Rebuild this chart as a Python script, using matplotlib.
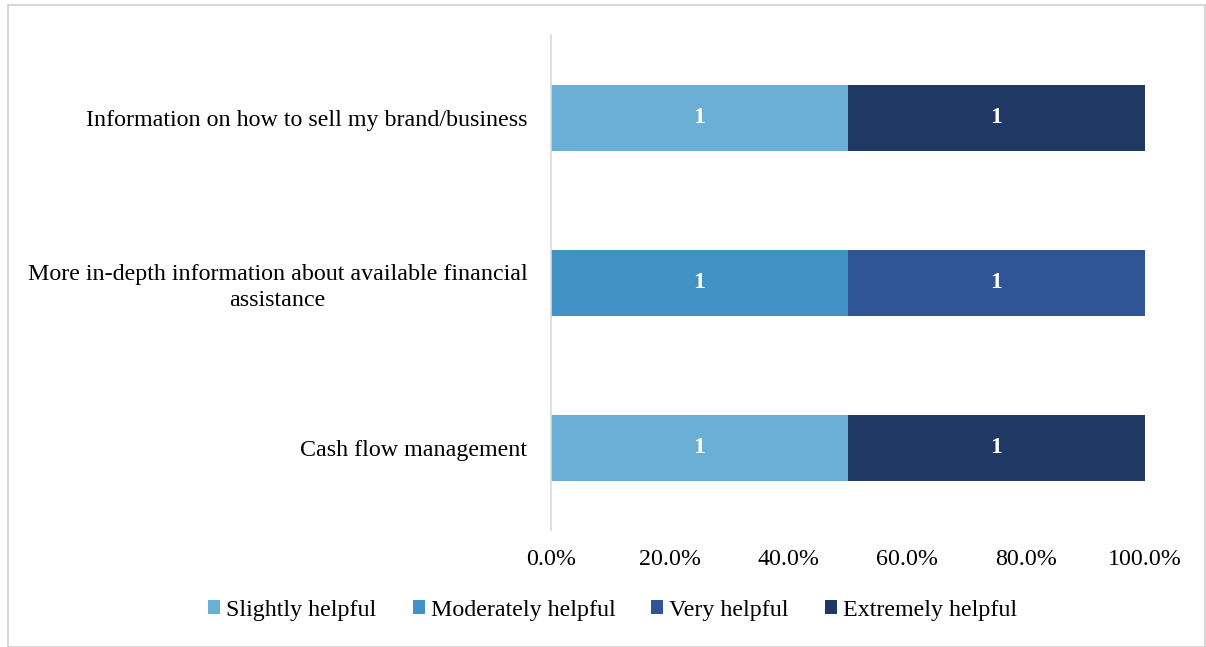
import matplotlib
matplotlib.use("Agg")
import matplotlib.pyplot as plt
import numpy as np
from matplotlib.ticker import FuncFormatter
from matplotlib.patches import Rectangle

categories = ["Cash flow management",
              "More in-depth information about available financial\nassistance",
              "Information on how to sell my brand/business"]
series = ["Slightly helpful", "Moderately helpful", "Very helpful", "Extremely helpful"]
slightly = [1, 0, 1]
moderately = [0, 1, 0]
very = [0, 1, 0]
extremely = [1, 0, 1]
colors = ["#6BAED6", "#4292C6", "#2F5597", "#203864"]

plt.rcParams['font.family'] = ['Liberation Serif', 'DejaVu Serif']

fig = plt.figure(figsize=(12.06, 6.47), dpi=100)
ax = fig.add_axes([0.4569, 0.1808, 0.4925, 0.7651])

data = np.array([slightly, moderately, very, extremely], dtype=float)
totals = data.sum(axis=0)
y = np.arange(len(categories))
left = np.zeros(len(categories))
for i, name in enumerate(series):
    frac = data[i] / totals
    bars = ax.barh(y, frac, left=left, height=0.4, color=colors[i], label=name)
    for j, b in enumerate(bars):
        if data[i][j] > 0:
            ax.text(left[j] + frac[j] / 2, y[j], f"{int(data[i][j])}", ha='center', va='center',
                    color='white', fontsize=17, fontweight='bold')
    left += frac

ax.set_xlim(0, 1)
ax.set_ylim(-0.5, 2.5)
ax.set_yticks(y)
ax.set_yticklabels(categories, fontsize=17.3, multialignment='center', linespacing=1.3)
ax.set_xticks(np.linspace(0, 1, 6))
ax.xaxis.set_major_formatter(FuncFormatter(lambda v, p: f"{v*100:.1f}%"))
ax.tick_params(axis='x', labelsize=17.3, length=0, pad=14)
ax.tick_params(axis='y', length=0, pad=17)
for s in ['top', 'right', 'bottom']:
    ax.spines[s].set_visible(False)
ax.spines['left'].set_color('#D9D9D9')
ax.spines['left'].set_linewidth(1.2)

leg = fig.legend(loc='center', bbox_to_anchor=(0.508, 0.057), ncol=4, frameon=False,
                 fontsize=17.3, handlelength=0.5, handleheight=0.5, handletextpad=0.25,
                 columnspacing=1.5)

fig.patches.append(Rectangle((8/1206, 0), 1 - 9/1206, 1 - 5/647, transform=fig.transFigure,
                             fill=False, edgecolor='#D0D0D0', linewidth=1.2))

fig.savefig("out.png", dpi=100)
